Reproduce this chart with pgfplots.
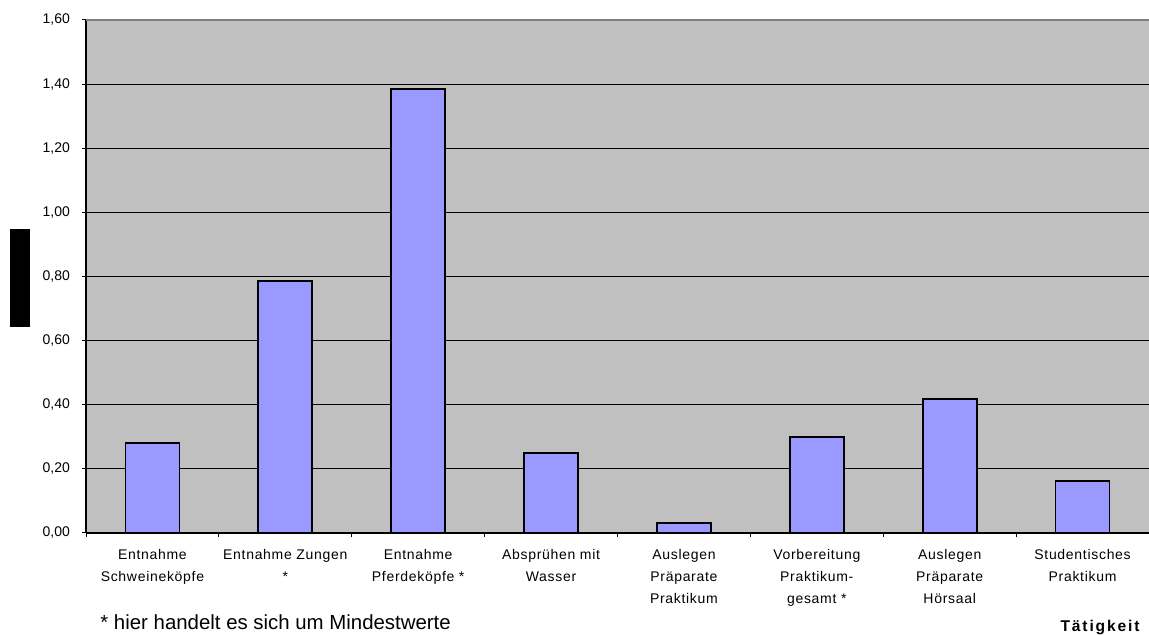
\documentclass[border=0pt]{standalone}
\usepackage{pgfplots}
\pgfplotsset{compat=1.18}
\usepackage{fontspec}
\setmainfont{Liberation Sans}
\definecolor{plotbg}{HTML}{C0C0C0}
\definecolor{barfill}{HTML}{9999FF}
\definecolor{topline}{HTML}{808080}
\begin{document}
\begin{tikzpicture}
\useasboundingbox (0,0) rectangle (574.5pt,317.5pt);
\begin{axis}[
  at={(43pt,51pt)}, anchor=south west,
  scale only axis, width=531.5pt, height=256.5pt,
  xmin=-0.5, xmax=7.5, ymin=0, ymax=1.6,
  clip=false,
  axis background/.style={fill=plotbg},
  axis x line*=bottom, axis y line*=left,
  axis line style={black, line width=0.6pt},
  ytick={0,0.2,0.4,0.6,0.8,1.0,1.2,1.4,1.6},
  scaled y ticks=false,
  ymajorgrids, major grid style={black, line width=0.5pt},
  tick align=outside, major tick length=2pt,
  tick style={black, line width=0.5pt},
  xtick={-0.5,0.5,1.5,2.5,3.5,4.5,5.5,6.5,7.5}, xticklabels={},
  extra x ticks={0,1,2,3,4,5,6,7},
  extra x tick labels={Entnahme\\Schweineköpfe, Entnahme Zungen\\*, Entnahme\\Pferdeköpfe *, Absprühen mit\\Wasser, Auslegen\\Präparate\\Praktikum, Vorbereitung\\Praktikum-\\gesamt *, Auslegen\\Präparate\\Hörsaal, Studentisches\\Praktikum},
  extra x tick style={major tick length=0pt, grid=none,
    tick label style={align=center, font=\fontsize{7}{11}\selectfont\addfontfeature{LetterSpace=5}, yshift=-4.5pt}},
  y tick label style={font=\fontsize{7}{8}\selectfont, xshift=-2.5pt,
    /pgf/number format/.cd, fixed, fixed zerofill, precision=2, use comma, assume math mode=true},
]
\addplot[ybar, bar width=0.406, fill=barfill, draw=black, line width=0.9pt]
  coordinates {(0,0.28) (1,0.785) (2,1.385) (3,0.25) (4,0.03) (5,0.30) (6,0.418) (7,0.163)};
\draw[topline, line width=0.9pt] (rel axis cs:0,1) -- (rel axis cs:1,1);
\end{axis}
\fill[black] (5pt,154pt) rectangle (15pt,203pt);
\node[anchor=base west, inner sep=0pt, font=\fontsize{10.2}{12}\selectfont] at (50pt,2.9pt) {* hier handelt es sich um Mindestwerte};
\node[anchor=base east, inner sep=0pt, font=\fontsize{7.8}{9}\selectfont\bfseries\addfontfeature{LetterSpace=12}] at (570pt,1.7pt) {Tätigkeit};
\end{tikzpicture}
\end{document}
